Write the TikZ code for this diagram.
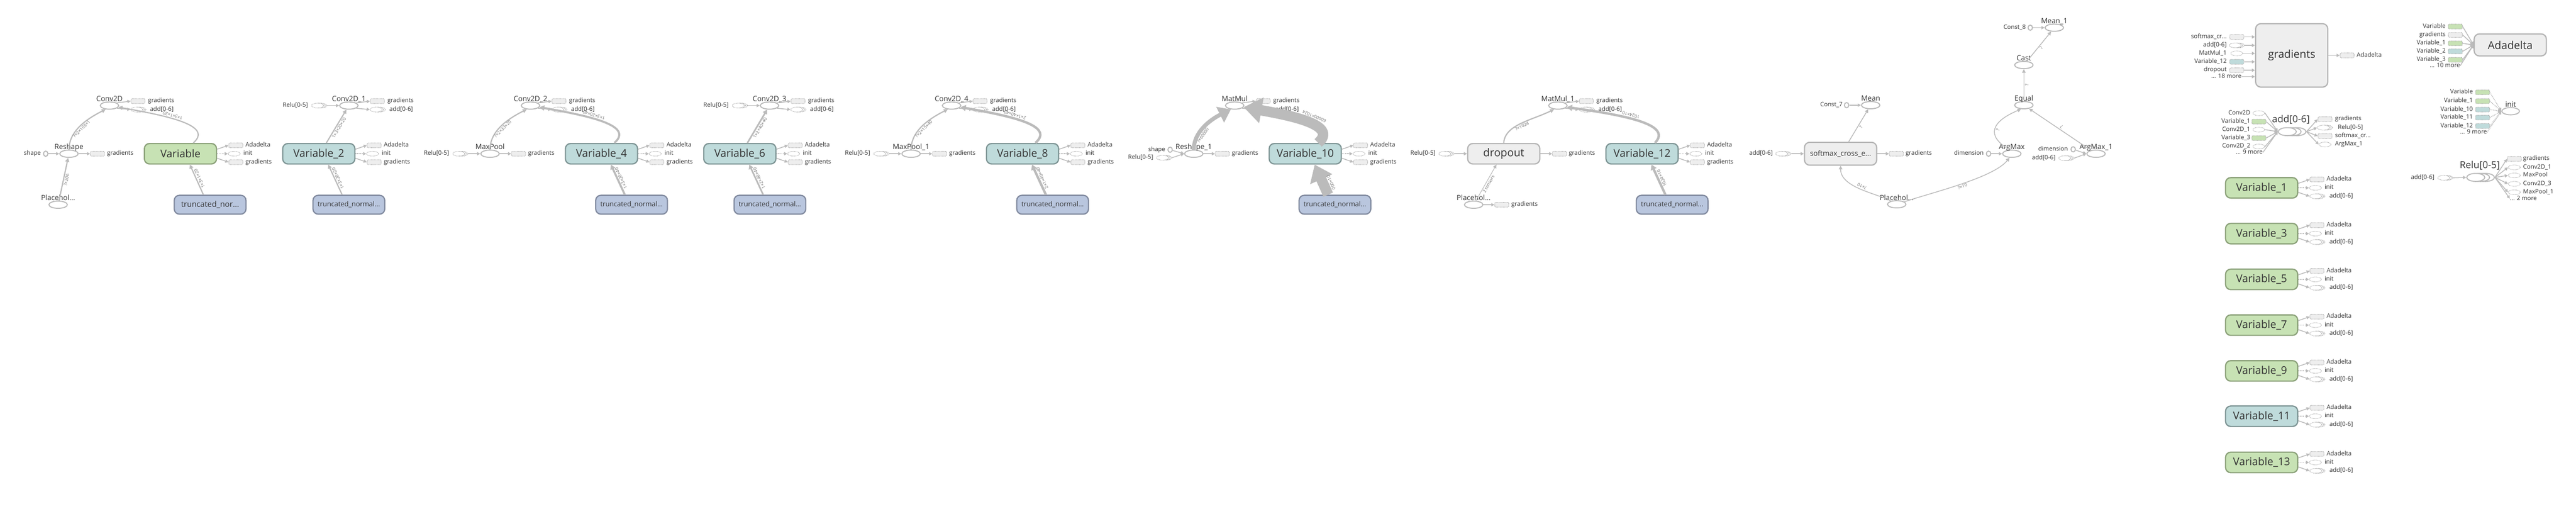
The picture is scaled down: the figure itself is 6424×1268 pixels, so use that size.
\documentclass[tikz,border=0pt]{standalone}
\usepackage{fontspec}
\setmainfont{Open Sans}
\usetikzlibrary{shapes.geometric,arrows.meta}
\definecolor{txt}{RGB}{51,51,51}
\definecolor{elc}{RGB}{110,110,110}
\definecolor{edgec}{RGB}{187,187,187}
\definecolor{opc}{RGB}{185,185,185}
\definecolor{anndraw}{RGB}{175,175,175}
\definecolor{mfill}{RGB}{238,238,238}
\definecolor{mdraw}{RGB}{180,180,180}
\definecolor{vgfill}{RGB}{199,226,180}
\definecolor{vgdraw}{RGB}{138,160,120}
\definecolor{vbfill}{RGB}{191,219,219}
\definecolor{vbdraw}{RGB}{125,148,148}
\definecolor{tfill}{RGB}{185,198,222}
\definecolor{tdraw}{RGB}{128,137,158}
\newcommand\fs[1]{\fontsize{#1}{#1}\selectfont}
\tikzset{
  op/.style={ellipse, draw=opc, line width=2.5, fill=white, minimum width=46, minimum height=18, inner sep=0, label distance=9.5pt},
  oplab/.style={font=\fs{18}, text=txt, inner sep=0, text depth=0pt},
  grplab/.style={font=\fs{24}, text=txt, inner sep=0},
  cst/.style={ellipse, draw=opc, line width=2.5, fill=white, minimum width=11, minimum height=13, inner sep=0},
  varnode/.style={rectangle, rounded corners=13, line width=3, minimum width=180, minimum height=51, font=\fs{26.5}, text=txt, inner sep=0},
  vgreen/.style={fill=vgfill, draw=vgdraw},
  vblue/.style={fill=vbfill, draw=vbdraw},
  vmeta/.style={fill=mfill, draw=mdraw},
  vtrunc/.style={fill=tfill, draw=tdraw, minimum width=179, minimum height=47, font=\fs{17}},
  annbox/.style={rectangle, rounded corners=2, draw=anndraw, line width=1.3, dash pattern=on 2pt off 1.5pt, fill=mfill, minimum width=35, minimum height=12, inner sep=0},
  annell/.style={ellipse, draw=anndraw, line width=1.3, dash pattern=on 2pt off 1.5pt, fill=white, minimum width=30, minimum height=12, inner sep=0},
  annl/.style={anchor=west, font=\fs{15}, text=txt, inner sep=0, text height=10pt, text depth=3pt},
  annr/.style={anchor=east, font=\fs{15}, text=txt, inner sep=0, text height=10pt, text depth=3pt},
  edge/.style={draw=edgec, line width=3, -{Triangle[length=10pt,width=10pt]}},
  edge2/.style={draw=edgec, line width=2, -{Triangle[length=9pt,width=9pt]}},
  aedge/.style={draw=edgec, line width=2, -{Triangle[length=8pt,width=8pt]}},
  dedge/.style={aedge, dash pattern=on 2pt off 2pt},
  elbl/.style={font=\fs{11}, text=elc, sloped, allow upside down, below, inner sep=2}
}
\newcommand\annser[3]{%
  \node[annell] (#1c) at ({#2+8},{#3}) {};
  \node[annell] (#1b) at ({#2+4},{#3}) {};
  \node[annell] (#1) at ({#2},{#3}) {};}
\newcommand\bigser[3]{%
  \node[op,minimum width=45,minimum height=20] (#1c) at ({#2+24},{#3}) {};
  \node[op,minimum width=45,minimum height=20] (#1b) at ({#2+12},{#3}) {};
  \node[op,minimum width=45,minimum height=20] (#1) at ({#2},{#3}) {};}
\newcommand\VarCore[5]{%
  \node[varnode,#5] (#1) at ({#2},{#3}) {#4};
  \node[annbox] (#1oa) at ({#2+138},{#3-21}) {};
  \node[annl] (#1la) at ({#2+162},{#3-21}) {Adadelta};
  \node[annell] (#1ob) at ({#2+134},{#3}) {};
  \node[annl] (#1lb) at ({#2+157},{#3}) {init};
  \draw[aedge] (#1.7) -- (#1oa.west);
  \draw[dedge] (#1.east) -- (#1ob.west);}
\newcommand\VarG[5]{\VarCore{#1}{#2}{#3}{#4}{#5}%
  \node[annbox] (#1oc) at ({#2+138},{#3+21}) {};
  \node[annl] (#1lc) at ({#2+162},{#3+21}) {gradients};
  \draw[aedge] (#1.-7) -- (#1oc.west);}
\newcommand\VarA[5]{\VarCore{#1}{#2}{#3}{#4}{#5}%
  \annser{#1oc}{#2+135}{#3+21}
  \node[annl] (#1lc) at ({#2+169},{#3+21}) {add[0-6]};
  \draw[aedge] (#1.-7) -- (#1oc.west);}
\newcommand\ConvOp[4]{%
  \node[op,label={[oplab]above:#4}] (#1) at ({#2},{#3}) {};
  \node[annbox] (#1g) at ({#2+71},{#3-11}) {};
  \node[annl] (#1gl) at ({#2+96},{#3-11}) {gradients};
  \annser{#1a}{#2+68}{#3+10}
  \node[annl] (#1al) at ({#2+101},{#3+10}) {add[0-6]};
  \draw[aedge] (#1.20) -- (#1g.west);
  \draw[aedge] (#1.-20) -- (#1a.west);}
\newcommand\MidOp[4]{%
  \node[op,label={[oplab]above:#4}] (#1) at ({#2},{#3}) {};
  \node[annbox] (#1g) at ({#2+71},{#3}) {};
  \node[annl] (#1gl) at ({#2+95},{#3}) {gradients};
  \draw[aedge] (#1) -- (#1g);}
\newcommand\ReluIn[4]{%
  \annser{#1}{#2}{#3}
  \node[annr] (#1l) at ({#2-24},{#3}) {Relu[0-5]};
  \draw[aedge] (#1c.east) -- (#4);}
\begin{document}
\begin{tikzpicture}[x=1pt,y=-1pt]
\useasboundingbox[fill=white] (0,0) rectangle (6424,1268);

% ---------- unit 1
\node[op,label={[oplab]above:Placehol...}] (ph1) at (145,510) {};
\node[cst] (shape1) at (114,383) {};
\node[annr] (shape1l) at (102,383) {shape};
\MidOp{reshape}{172}{383}{Reshape}
\draw[aedge] (shape1) -- (reshape);
\ConvOp{conv0}{273}{263}{Conv2D}
\VarG{var0}{450}{383}{Variable}{vgreen}
\node[varnode,vtrunc,font=\fs{19.5}] (tr0) at (524,510) {truncated\_nor...};
\draw[edge] (ph1) -- node[elbl]{?×206} (reshape);
\draw[edge] (reshape.north) .. controls +(0,-44) and +(-52,26) .. (conv0.225) node[elbl,pos=.5]{?×2×103×1};
\draw[edge] (var0.40) .. controls +(50,-44) and +(123,22) .. (conv0.-10) node[elbl,pos=.6]{1×3×1×20};
\draw[edge] (tr0.124) -- node[elbl]{1×3×1×20} (var0.-49);

% ---------- unit 2
\ConvOp{conv1}{870}{263}{Conv2D\_1}
\ReluIn{r1}{792}{263}{conv1}
\VarG{var2}{795}{383}{Variable\_2}{vblue}
\node[varnode,vtrunc] (tr2) at (870,510) {truncated\_normal...};
\draw[edge] (var2.55) -- node[elbl]{1×3×20×20} (conv1);
\draw[edge] (tr2.124) -- node[elbl]{1×3×20×20} (var2.-49);

% ---------- unit 3
\MidOp{mp0}{1222}{383}{MaxPool}
\ReluIn{r2}{1144}{383}{mp0}
\ConvOp{conv2}{1323}{263}{Conv2D\_2}
\VarG{var4}{1500}{383}{Variable\_4}{vblue}
\node[varnode,vtrunc] (tr4) at (1575,510) {truncated\_normal...};
\draw[edge] (mp0.north) .. controls +(0,-44) and +(-52,26) .. (conv2.225) node[elbl,pos=.5]{?×2×33×20};
\draw[edge,line width=5,-{Triangle[length=12pt,width=13pt]}] (var4.40) .. controls +(50,-44) and +(123,22) .. (conv2.-10) node[elbl,pos=.6]{1×3×20×40};
\draw[edge,line width=5,-{Triangle[length=12pt,width=13pt]}] (tr4.124) -- node[elbl]{1×3×20×40} (var4.-49);

% ---------- unit 4
\ConvOp{conv3}{1919}{263}{Conv2D\_3}
\ReluIn{r3}{1841}{263}{conv3}
\VarG{var6}{1845}{383}{Variable\_6}{vblue}
\node[varnode,vtrunc] (tr6) at (1920,510) {truncated\_normal...};
\draw[edge,line width=4,-{Triangle[length=11pt,width=12pt]}] (var6.55) -- node[elbl]{1×2×40×40} (conv3);
\draw[edge,line width=4,-{Triangle[length=11pt,width=12pt]}] (tr6.124) -- node[elbl]{1×2×40×40} (var6.-49);

% ---------- unit 5
\MidOp{mp1}{2272}{383}{MaxPool\_1}
\ReluIn{r4}{2194}{383}{mp1}
\ConvOp{conv4}{2373}{263}{Conv2D\_4}
\VarG{var8}{2550}{383}{Variable\_8}{vblue}
\node[varnode,vtrunc] (tr8) at (2625,510) {truncated\_normal...};
\draw[edge] (mp1.north) .. controls +(0,-44) and +(-52,26) .. (conv4.225) node[elbl,pos=.5]{?×2×15×40};
\draw[edge,line width=6,-{Triangle[length=13pt,width=15pt]}] (var8.40) .. controls +(50,-44) and +(123,22) .. (conv4.-10) node[elbl,pos=.6]{2×1×40×40};
\draw[edge,line width=6,-{Triangle[length=13pt,width=15pt]}] (tr8.124) -- node[elbl]{2×1×40×40} (var8.-49);

% ---------- unit 6
\MidOp{rs1}{2977}{383}{Reshape\_1}
\node[cst] (shape2) at (2918,373) {};
\node[annr] (shape2l) at (2906,373) {shape};
\annser{r5}{2899}{393}
\node[annr] (r5l) at (2876,393) {Relu[0-5]};
\draw[aedge] (shape2) -- (rs1.west);
\draw[aedge] (r5c.east) -- (rs1.west);
\ConvOp{mm0}{3079}{263}{MatMul}
\VarG{var10}{3255}{383}{Variable\_10}{vblue}
\node[varnode,vtrunc] (tr10) at (3329,510) {truncated\_normal...};
\draw[edge,line width=10,-{Triangle[length=30pt,width=42pt]}] (rs1.north) .. controls +(0,-44) and +(-52,26) .. (mm0.225) node[elbl,pos=.35]{?×60000};
\draw[edge,line width=26,-{Triangle[length=45pt,width=62pt]}] (var10.40) .. controls +(50,-44) and +(123,22) .. (mm0.-10) node[elbl,pos=.45]{60000×1024};
\draw[edge,line width=26,-{Triangle[length=40pt,width=58pt]}] (tr10.124) -- node[elbl,pos=.3]{000×10} (var10.-49);

% ---------- unit 7
\node[varnode,vmeta,font=\fs{27}] (dropout) at (3750,383) {dropout};
\annser{r6}{3603}{383}
\node[annr] (r6l) at (3580,383) {Relu[0-5]};
\draw[aedge] (r6c.east) -- (dropout);
\node[annbox] (dropg) at (3889,383) {};
\node[annl] (dropgl) at (3912,383) {gradients};
\draw[aedge] (dropout) -- (dropg);
\node[op,label={[oplab]above:Placehol...}] (ph2) at (3675,510) {};
\node[annbox] (ph2g) at (3745,510) {};
\node[annl] (ph2gl) at (3769,510) {gradients};
\draw[aedge] (ph2) -- (ph2g);
\draw[edge,line width=1.5,-{Triangle[length=9pt,width=9pt]}] (ph2) -- node[elbl]{2 tensors} (dropout.-124);
\ConvOp{mm1}{3885}{263}{MatMul\_1}
\draw[edge] (dropout.north) .. controls +(3,-45) and +(-58,28) .. (mm1.225) node[elbl,pos=.5]{?×1024};
\VarG{var12}{4095}{383}{Variable\_12}{vblue}
\node[varnode,vtrunc] (tr12) at (4170,510) {truncated\_normal...};
\draw[edge,line width=6,-{Triangle[length=13pt,width=15pt]}] (var12.40) .. controls +(42,-44) and +(158,22) .. (mm1.-10) node[elbl,pos=.6]{1024×10};
\draw[edge,line width=6,-{Triangle[length=13pt,width=15pt]}] (tr12.124) -- node[elbl]{1024×10} (var12.-49);

% ---------- unit 8
\node[varnode,vmeta,minimum height=57,font=\fs{18}] (softmax) at (4590,383) {softmax\_cross\_e...};
\annser{r7}{4443}{383}
\node[annr] (r7l) at (4421,383) {add[0-6]};
\draw[aedge] (r7c.east) -- (softmax);
\node[annbox] (smg) at (4729,383) {};
\node[annl] (smgl) at (4752,383) {gradients};
\draw[aedge] (softmax) -- (smg);
\node[op,label={[oplab]above:Mean}] (mean) at (4665,262) {};
\node[cst] (const7) at (4605,262) {};
\node[annr] (const7l) at (4595,262) {Const\_7};
\draw[aedge] (const7) -- (mean);
\node[op,label={[oplab]above:Placehol...}] (ph3) at (4730,509) {};
\node[op,label={[oplab]above:ArgMax}] (argmax) at (5017,383) {};
\node[cst] (dim1) at (4959,383) {};
\node[annr] (dim1l) at (4947,383) {dimension};
\draw[aedge] (dim1) -- (argmax);
\node[op,label={[oplab]above:ArgMax\_1}] (argmax1) at (5227,383) {};
\node[cst] (dim2) at (5170,372) {};
\node[annr] (dim2l) at (5157,372) {dimension};
\annser{r8}{5149}{394}
\node[annr] (r8l) at (5126,394) {add[0-6]};
\draw[aedge] (dim2) -- (argmax1.west);
\draw[aedge] (r8c.east) -- (argmax1.west);
\node[op,label={[oplab]above:Equal}] (equal) at (5047,262) {};
\node[op,label={[oplab]above:Cast}] (cast) at (5047,162) {};
\node[op,label={[oplab]above:Mean\_1}] (mean1) at (5123,69) {};
\node[cst] (const8) at (5063,69) {};
\node[annr] (const8l) at (5052,69) {Const\_8};
\draw[aedge] (const8) -- (mean1);
\draw[edge2] (softmax.56) -- node[elbl]{?} (mean);
\draw[edge2] (ph3) .. controls +(-48,-27) and +(0,55) .. (softmax.south) node[elbl,pos=.5]{?×10};
\draw[edge2] (ph3) .. controls +(90,-30) and +(-40,50) .. (argmax.-120) node[elbl,pos=.5]{?×10};
\draw[edge2] (argmax.120) .. controls +(-60,-35) and +(-74,31) .. (equal.-125) node[elbl,pos=.5]{?};
\draw[edge2] (argmax1) -- node[elbl]{?} (equal);
\draw[edge2] (equal) -- node[elbl]{?} (cast);
\draw[edge2] (cast) -- node[elbl]{?} (mean1);

% ---------- right panel: gradients
\node[varnode,vmeta,minimum height=158,font=\fs{27}] (gradbox) at (5715,138) {gradients};
\node[annbox] (gi1) at (5578,92) {};
\node[annr] (gi1l) at (5553,92) {softmax\_cr...};
\annser{gi2}{5574}{113}
\node[annr] (gi2l) at (5553,113) {add[0-6]};
\node[annell] (gi3) at (5578,133) {};
\node[annr] (gi3l) at (5553,133) {MatMul\_1};
\node[annbox,fill=vbfill] (gi4) at (5578,154) {};
\node[annr] (gi4l) at (5553,154) {Variable\_12};
\node[annbox] (gi5) at (5578,175) {};
\node[annr] (gi5l) at (5553,175) {dropout};
\node[annr] (gi6) at (5590,191) {... 18 more};
\foreach \nm in {gi1,gi2c,gi3,gi4,gi5,gi6} \draw[aedge] (\nm.east) -- (\nm.east -| gradbox.west);
\node[annbox] (gout) at (5853,138) {};
\node[annl] (goutl) at (5877,138) {Adadelta};
\draw[aedge] (gradbox) -- (gout);

% Adadelta
\node[varnode,vmeta,minimum height=55,font=\fs{27}] (adabox) at (6260,112) {Adadelta};
\node[annbox,fill=vgfill] (ai1) at (6123,66) {};
\node[annr] (ai1l) at (6099,66) {Variable};
\node[annbox] (ai2) at (6123,87) {};
\node[annr] (ai2l) at (6099,87) {gradients};
\node[annbox,fill=vgfill] (ai3) at (6123,108) {};
\node[annr] (ai3l) at (6099,108) {Variable\_1};
\node[annbox,fill=vbfill] (ai4) at (6123,128) {};
\node[annr] (ai4l) at (6099,128) {Variable\_2};
\node[annbox,fill=vgfill] (ai5) at (6123,149) {};
\node[annr] (ai5l) at (6099,149) {Variable\_3};
\node[annr] (ai6) at (6135,164) {... 10 more};
\foreach \nm in {ai1,ai2,ai3,ai4,ai5,ai6} \draw[aedge] (\nm.east) -- (adabox.west);

% init
\node[op,minimum width=44,label={[oplab]above:init}] (initn) at (6261,277) {};
\node[annbox,fill=vgfill] (ii1) at (6191,230) {};
\node[annr] (ii1l) at (6167,230) {Variable};
\node[annbox,fill=vgfill] (ii2) at (6191,252) {};
\node[annr] (ii2l) at (6167,252) {Variable\_1};
\node[annbox,fill=vbfill] (ii3) at (6191,273) {};
\node[annr] (ii3l) at (6167,273) {Variable\_10};
\node[annbox,fill=vbfill] (ii4) at (6191,293) {};
\node[annr] (ii4l) at (6167,293) {Variable\_11};
\node[annbox,fill=vbfill] (ii5) at (6191,314) {};
\node[annr] (ii5l) at (6167,314) {Variable\_12};
\node[annr] (ii6) at (6202,330) {... 9 more};
\foreach \nm in {ii1,ii2,ii3,ii4,ii5,ii6} \draw[dedge] (\nm.east) -- (initn.west);

% add[0-6] group
\bigser{addg}{5704}{328}
\node[grplab] (addgl) at (5713,298) {add[0-6]};
\node[annell] (ad1) at (5633,282) {};
\node[annr] (ad1l) at (5612,282) {Conv2D};
\node[annbox,fill=vgfill] (ad2) at (5633,303) {};
\node[annr] (ad2l) at (5612,303) {Variable\_1};
\node[annell] (ad3) at (5633,323) {};
\node[annr] (ad3l) at (5612,323) {Conv2D\_1};
\node[annbox,fill=vgfill] (ad4) at (5633,344) {};
\node[annr] (ad4l) at (5612,344) {Variable\_3};
\node[annell] (ad5) at (5633,365) {};
\node[annr] (ad5l) at (5612,365) {Conv2D\_2};
\node[annr] (ad6) at (5643,380) {... 9 more};
\foreach \nm in {ad1,ad2,ad3,ad4,ad5,ad6} \draw[aedge] (\nm.east) -- (addg.west);
\node[annbox] (ao1) at (5798,297) {};
\node[annl] (ao1l) at (5823,297) {gradients};
\annser{ao2}{5794}{318}
\node[annl] (ao2l) at (5830,318) {Relu[0-5]};
\node[annbox] (ao3) at (5798,339) {};
\node[annl] (ao3l) at (5823,339) {softmax\_cr...};
\node[annell] (ao4) at (5798,360) {};
\node[annl] (ao4l) at (5823,360) {ArgMax\_1};
\foreach \nm in {ao1,ao2,ao3,ao4} \draw[aedge] (addgc.east) -- (\nm.west);

% Relu[0-5] group
\bigser{relug}{6174}{442}
\node[grplab] (relugl) at (6184,412) {Relu[0-5]};
\annser{rin}{6094}{443}
\node[annr] (rinl) at (6071,443) {add[0-6]};
\draw[aedge] (rinc.east) -- (relug.west);
\node[annbox] (ro1) at (6270,396) {};
\node[annl] (ro1l) at (6292,396) {gradients};
\node[annell] (ro2) at (6270,417) {};
\node[annl] (ro2l) at (6292,417) {Conv2D\_1};
\node[annell] (ro3) at (6270,437) {};
\node[annl] (ro3l) at (6292,437) {MaxPool};
\node[annell] (ro4) at (6270,458) {};
\node[annl] (ro4l) at (6292,458) {Conv2D\_3};
\node[annell] (ro5) at (6270,479) {};
\node[annl] (ro5l) at (6292,479) {MaxPool\_1};
\node[annl] (ro6) at (6259,495) {... 2 more};
\foreach \nm in {ro1,ro2,ro3,ro4,ro5,ro6} \draw[aedge] (relugc.east) -- (\nm.west);

% Variable column
\VarA{v1}{5640}{468}{Variable\_1}{vgreen}
\VarA{v3}{5640}{582}{Variable\_3}{vgreen}
\VarA{v5}{5640}{696}{Variable\_5}{vgreen}
\VarA{v7}{5640}{810}{Variable\_7}{vgreen}
\VarA{v9}{5640}{924}{Variable\_9}{vgreen}
\VarA{v11}{5640}{1037}{Variable\_11}{vblue}
\VarA{v13}{5640}{1152}{Variable\_13}{vgreen}
\end{tikzpicture}
\end{document}
